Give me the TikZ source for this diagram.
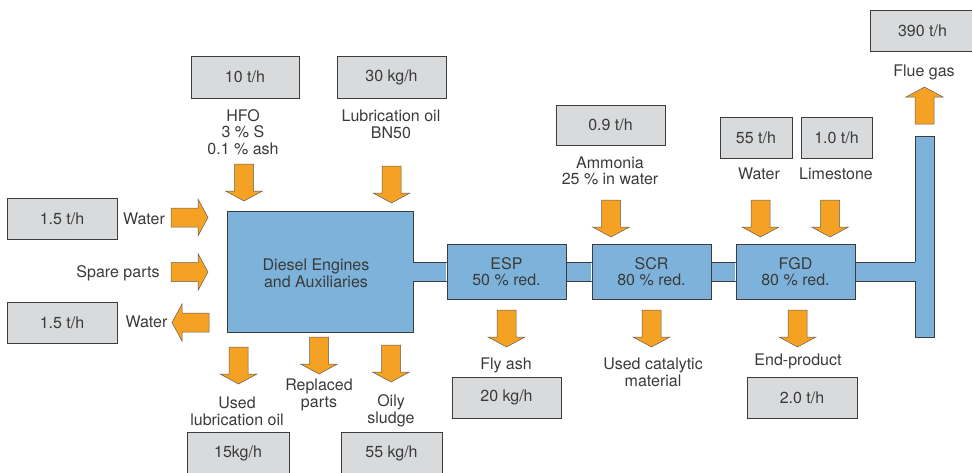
\documentclass[tikz,border=0pt]{standalone}
\usepackage{fontspec}
\setmainfont{TeX Gyre Heros}
\usetikzlibrary{calc}
\definecolor{boxgray}{HTML}{D9DADC}
\definecolor{linegray}{HTML}{3C3C3C}
\definecolor{pipeblue}{HTML}{7DB3DB}
\definecolor{arroworange}{HTML}{F5A123}
\definecolor{arrowline}{HTML}{5E5E5E}
\definecolor{txt}{HTML}{3A3A3A}
\tikzset{
  graybox/.style={draw=linegray, line width=0.8pt, fill=boxgray, inner sep=0pt},
  bluebox/.style={draw=linegray, line width=0.8pt, fill=pipeblue, inner sep=0pt,
                  minimum width=119pt, minimum height=55pt, align=center},
  lbl/.style={align=center, inner sep=0pt},
  arr/.style={fill=arroworange, draw=arrowline, line width=0.5pt},
  pipeline/.style={draw=linegray, line width=0.8pt},
  downarr/.pic={\path[arr] (-9.5,0) -- (9.5,0) -- (9.5,27) -- (18.5,27) -- (0,37) -- (-18.5,27) -- (-9.5,27) -- cycle;},
  uparr/.pic={\path[arr] (-9.5,0) -- (9.5,0) -- (9.5,-27) -- (18.5,-27) -- (0,-37) -- (-18.5,-27) -- (-9.5,-27) -- cycle;},
  rightarr/.pic={\path[arr] (0,-9.5) -- (0,9.5) -- (27,9.5) -- (27,18.5) -- (37,0) -- (27,-18.5) -- (27,-9.5) -- cycle;},
  leftarr/.pic={\path[arr] (0,-9.5) -- (0,9.5) -- (-27,9.5) -- (-27,18.5) -- (-37,0) -- (-27,-18.5) -- (-27,-9.5) -- cycle;},
}
\begin{document}
\begin{tikzpicture}[x=1pt,y=-1pt,font=\fontsize{16}{16.6}\selectfont,text=txt]
\useasboundingbox (0,0) rectangle (972,472);
\clip (0,0) rectangle (972,472);

% main blue units
\node[draw=linegray, line width=0.8pt, fill=pipeblue, minimum width=186pt, minimum height=121pt, inner sep=0pt] (diesel) at (320,271.5) {};
\node[lbl] (diesellbl) at (316,273) {Diesel Engines\\and Auxiliaries};
\node[bluebox] (esp) at (506.5,271.5) {ESP\\50 \% red.};
\node[bluebox] (scr) at (651.5,271.5) {SCR\\80 \% red.};
\node[bluebox] (fgd) at (795.5,271.5) {FGD\\80 \% red.};
\node[draw=linegray, line width=0.8pt, fill=pipeblue, minimum width=19pt, minimum height=201pt, inner sep=0pt] (stack) at (924.5,236.5) {};

% pipes
\fill[pipeblue] ($(diesel.east)+(-1,-9.5)$) rectangle ($(esp.west)+(-0.4,9.5)$);
\draw[pipeline] ($(diesel.east)+(-0.4,-9.5)$) -- ($(esp.west)+(0,-9.5)$);
\draw[pipeline] ($(diesel.east)+(-0.4,9.5)$) -- ($(esp.west)+(0,9.5)$);
\fill[pipeblue] ($(esp.east)+(0.4,-9.5)$) rectangle ($(scr.west)+(-0.4,9.5)$);
\draw[pipeline] ($(esp.east)+(0,-9.5)$) -- ($(scr.west)+(0,-9.5)$);
\draw[pipeline] ($(esp.east)+(0,9.5)$) -- ($(scr.west)+(0,9.5)$);
\fill[pipeblue] ($(scr.east)+(0.4,-9.5)$) rectangle ($(fgd.west)+(-0.4,9.5)$);
\draw[pipeline] ($(scr.east)+(0,-9.5)$) -- ($(fgd.west)+(0,-9.5)$);
\draw[pipeline] ($(scr.east)+(0,9.5)$) -- ($(fgd.west)+(0,9.5)$);
\fill[pipeblue] ($(fgd.east)+(0.4,-9.5)$) rectangle ($(stack.west |- fgd.east)+(1,9.5)$);
\draw[pipeline] ($(fgd.east)+(0,-9.5)$) -- ($(stack.west |- fgd.east)+(0.4,-9.5)$);
\draw[pipeline] ($(fgd.east)+(0,9.5)$) -- ($(stack.west |- fgd.east)+(0.4,9.5)$);

% gray value boxes
\node[graybox, minimum width=105pt, minimum height=41pt] (b390) at (922.5,30.5) {390 t/h};
\node[graybox, minimum width=108pt, minimum height=42pt] (b10) at (245,77) {10 t/h};
\node[graybox, minimum width=109pt, minimum height=42pt] (b30) at (391.5,77) {30 kg/h};
\node[graybox, minimum width=109pt, minimum height=40pt] (b09) at (610.5,125) {0.9 t/h};
\node[graybox, minimum width=72pt, minimum height=41pt] (b55) at (756,137.5) {55 t/h};
\node[graybox, minimum width=71pt, minimum height=41pt] (b1) at (836.5,137.5) {1.0 t/h};
\node[graybox, minimum width=110pt, minimum height=41pt] (bw1) at (62,218.5) {1.5 t/h};
\node[graybox, minimum width=110pt, minimum height=41pt] (bw2) at (62,322.5) {1.5 t/h};
\node[graybox, minimum width=109pt, minimum height=41pt] (b20) at (506.5,397.5) {20 kg/h};
\node[graybox, minimum width=110pt, minimum height=41pt] (b2) at (802,397.5) {2.0 t/h};
\node[graybox, minimum width=102pt, minimum height=42pt] (b15) at (238,453) {15kg/h};
\node[graybox, minimum width=101pt, minimum height=42pt] (b55s) at (391.5,453) {55 kg/h};

% labels
\node[lbl] (lflue) at (924,72) {Flue gas};
\node[lbl] (lhfo) at (243,132) {HFO\\3 \% S\\0.1 \% ash};
\node[lbl] (llube) at (391,124) {Lubrication oil\\BN50};
\node[lbl] (lamm) at (610,171) {Ammonia\\25 \% in water};
\node[lbl] (lwat) at (759,174) {Water};
\node[lbl] (llime) at (836,174) {Limestone};
\node[lbl] (lwin) at (144,219) {Water};
\node[lbl] (lspare) at (118,273) {Spare parts};
\node[lbl] (lwout) at (146.5,322) {Water};
\node[lbl] (lused) at (237,411) {Used\\lubrication oil};
\node[lbl] (lrepl) at (319,395) {Replaced\\parts};
\node[lbl] (loily) at (391,411) {Oily\\sludge};
\node[lbl] (lfly) at (506,365) {Fly ash};
\node[lbl] (lcat) at (653,372) {Used catalytic\\material};
\node[lbl] (lend) at (798,361) {End-product};

% block arrows
\pic at (244,164) {downarr};
\pic at (391.5,166) {downarr};
\pic at (611,200) {downarr};
\pic at (760.5,200) {downarr};
\pic at (830,200) {downarr};
\pic at (238.5,347) {downarr};
\pic at (319,337) {downarr};
\pic at (391,345) {downarr};
\pic at (506.5,310) {downarr};
\pic at (651.5,310) {downarr};
\pic at (797.5,310) {downarr};
\pic at (924.5,124) {uparr};
\pic at (171,217.5) {rightarr};
\pic at (171,272) {rightarr};
\pic at (209,322.5) {leftarr};
\end{tikzpicture}
\end{document}
